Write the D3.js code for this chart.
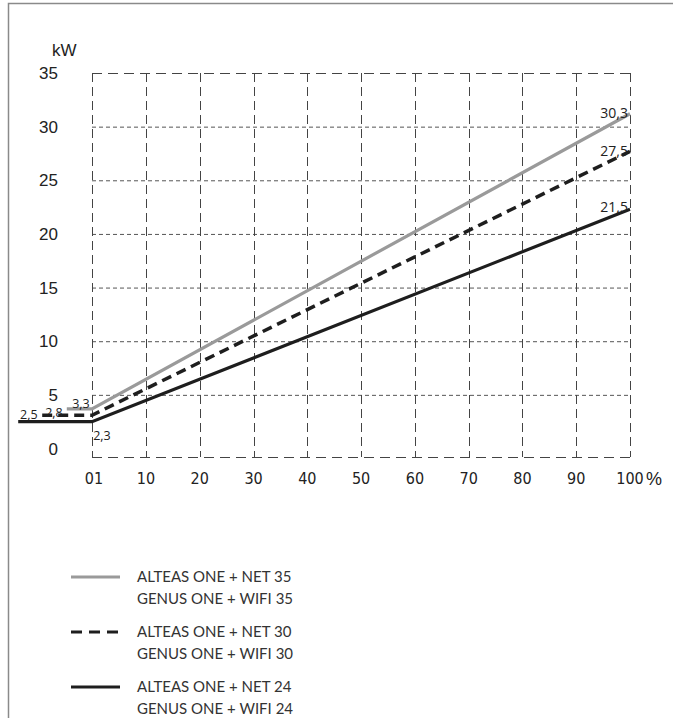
<!DOCTYPE html>
<html lang="en">
<head>
    <meta charset="utf-8">
    <title>kW chart</title>
    <script type="text/javascript" src="https://d3js.org/d3.v7.min.js"></script>
    <style>
        body { margin: 0; background: #fff; }
        svg { display: block; }
        .ylab { font-family: "Liberation Sans", Arial, sans-serif; font-size: 17px; fill: #222; }
        .xlab { font-family: "DejaVu Sans Condensed", "DejaVu Sans", sans-serif; font-size: 16px; fill: #222; }
        .vlab { font-family: "Open Sans", sans-serif; font-size: 14px; fill: #222; }
        .leg { font-family: "Lato", "Open Sans", sans-serif; font-size: 15px; fill: #333; }
    </style>
</head>
<body>
    <div id="container"></div>
    <script type="text/javascript">
        var w = 673;
        var h = 718;

        // data
        var yTicks = [0, 5, 10, 15, 20, 25, 30, 35];
        var xTicks = [1, 10, 20, 30, 40, 50, 60, 70, 80, 90, 100];
        var xTickLabels = ["01", "10", "20", "30", "40", "50", "60", "70", "80", "90", "100"];

        var series35 = [[-3.2, 3.7], [1, 3.7], [100, 31.2]];
        var series30 = [[-7.3, 3.1], [1, 3.1], [100, 27.7]];
        var series24 = [[-11.3, 2.5], [1, 2.5], [100, 22.3]];

        var endLabels = ["30,3", "27,5", "21,5"];
        var endLabelY = [30.8, 27.3, 22.0];
        var startLabels = ["2,5", "2,8", "3,3", "2,3"];
        var startLabelX = [-11, -6.8, -2.3, 1.2];
        var startLabelY = [2.75, 2.95, 3.8, 0.8];

        var legendRow1 = ["ALTEAS ONE + NET 35", "ALTEAS ONE + NET 30", "ALTEAS ONE + NET 24"];
        var legendRow2 = ["GENUS ONE + WIFI 35", "GENUS ONE + WIFI 30", "GENUS ONE + WIFI 24"];

        var svg = d3.select("div#container")
            .append("svg")
            .attr("width", w)
            .attr("height", h);

        // outer frame (top + left only)
        svg.append("path")
            .attr("d", "M8.5," + h + " V3.5 H" + w)
            .attr("fill", "none")
            .attr("stroke", "#8a8a8a")
            .attr("stroke-width", 1.5);

        var x = d3.scaleLinear().domain([1, 10, 100]).range([92, 146, 630]);
        var y = d3.scaleLinear().domain([0, 35]).range([448.5, 73]);
        var yBottom = 457;

        // interior horizontal grid lines
        svg.selectAll("line.hgrid")
            .data(yTicks.filter(function (d) { return d > 0 && d < 35; }))
            .enter()
            .append("line")
            .attr("class", "hgrid")
            .attr("x1", x(1)).attr("x2", x(100))
            .attr("y1", function (d) { return y(d) + 0.5; })
            .attr("y2", function (d) { return y(d) + 0.5; })
            .attr("stroke", "#555")
            .attr("stroke-width", 1)
            .attr("stroke-dasharray", "4,3");

        // vertical grid lines
        svg.selectAll("line.vgrid")
            .data(xTicks)
            .enter()
            .append("line")
            .attr("class", "vgrid")
            .attr("x1", function (d) { return Math.round(x(d)) + 0.5; })
            .attr("x2", function (d) { return Math.round(x(d)) + 0.5; })
            .attr("y1", y(35)).attr("y2", yBottom)
            .attr("stroke", "#444")
            .attr("stroke-width", 1)
            .attr("stroke-dasharray", "9,5");

        // top and bottom frame of the grid
        [y(35), yBottom].forEach(function (yy) {
            svg.append("line")
                .attr("x1", x(1)).attr("x2", x(100))
                .attr("y1", yy + 0.5).attr("y2", yy + 0.5)
                .attr("stroke", "#444")
                .attr("stroke-width", 1)
                .attr("stroke-dasharray", "10,6");
        });

        // y labels
        svg.selectAll("text.ylab")
            .data(yTicks)
            .enter()
            .append("text")
            .attr("class", "ylab")
            .attr("x", 58)
            .attr("y", function (d) { return y(d); })
            .attr("dy", "0.36em")
            .attr("text-anchor", "end")
            .text(function (d) { return d; });

        svg.append("text")
            .attr("class", "ylab")
            .attr("x", 52).attr("y", 56)
            .text("kW");

        // x labels
        svg.selectAll("text.xlab")
            .data(xTicks)
            .enter()
            .append("text")
            .attr("class", "xlab")
            .attr("x", function (d) { return x(d) + (d === 1 ? 2 : 0); })
            .attr("y", 484)
            .attr("text-anchor", "middle")
            .text(function (d, i) { return xTickLabels[i]; });

        svg.append("text")
            .attr("class", "ylab")
            .attr("x", 646).attr("y", 485)
            .style("font-size", "18px")
            .text("%");

        // series
        var line = d3.line()
            .x(function (d) { return x(d[0]); })
            .y(function (d) { return y(d[1]); });

        var styles = [
            { data: series35, color: "#9a9a9a", width: 3.2, dash: null },
            { data: series30, color: "#1e1e1e", width: 3.5, dash: "10,6" },
            { data: series24, color: "#1e1e1e", width: 3.2, dash: null }
        ];

        svg.selectAll("path.series")
            .data(styles)
            .enter()
            .append("path")
            .attr("class", "series")
            .attr("d", function (d) { return line(d.data); })
            .attr("fill", "none")
            .attr("stroke", function (d) { return d.color; })
            .attr("stroke-width", function (d) { return d.width; })
            .attr("stroke-dasharray", function (d) { return d.dash; });

        // value labels
        svg.selectAll("text.endlab")
            .data(endLabels)
            .enter()
            .append("text")
            .attr("class", "vlab")
            .attr("x", 628)
            .attr("y", function (d, i) { return y(endLabelY[i]); })
            .attr("text-anchor", "end")
            .text(function (d) { return d; });

        svg.selectAll("text.startlab")
            .data(startLabels)
            .enter()
            .append("text")
            .attr("class", "vlab")
            .attr("x", function (d, i) { return x(startLabelX[i]); })
            .attr("y", function (d, i) { return y(startLabelY[i]); })
            .style("font-size", "12.5px")
            .text(function (d) { return d; });

        // legend
        var legend = svg.selectAll("g.legend")
            .data(styles)
            .enter()
            .append("g")
            .attr("class", "legend")
            .attr("transform", function (d, i) { return "translate(0," + (577 + i * 55) + ")"; });

        legend.append("line")
            .attr("x1", 71).attr("x2", 120)
            .attr("y1", 0).attr("y2", 0)
            .attr("stroke", function (d) { return d.color; })
            .attr("stroke-width", 3)
            .attr("stroke-dasharray", function (d) { return d.dash ? "11,7" : null; });

        legend.append("text")
            .attr("class", "leg")
            .attr("x", 137).attr("y", 0)
            .attr("dy", "0.35em")
            .text(function (d, i) { return legendRow1[i]; });

        legend.append("text")
            .attr("class", "leg")
            .attr("x", 137).attr("y", 22)
            .attr("dy", "0.35em")
            .text(function (d, i) { return legendRow2[i]; });
    </script>
</body>
</html>
